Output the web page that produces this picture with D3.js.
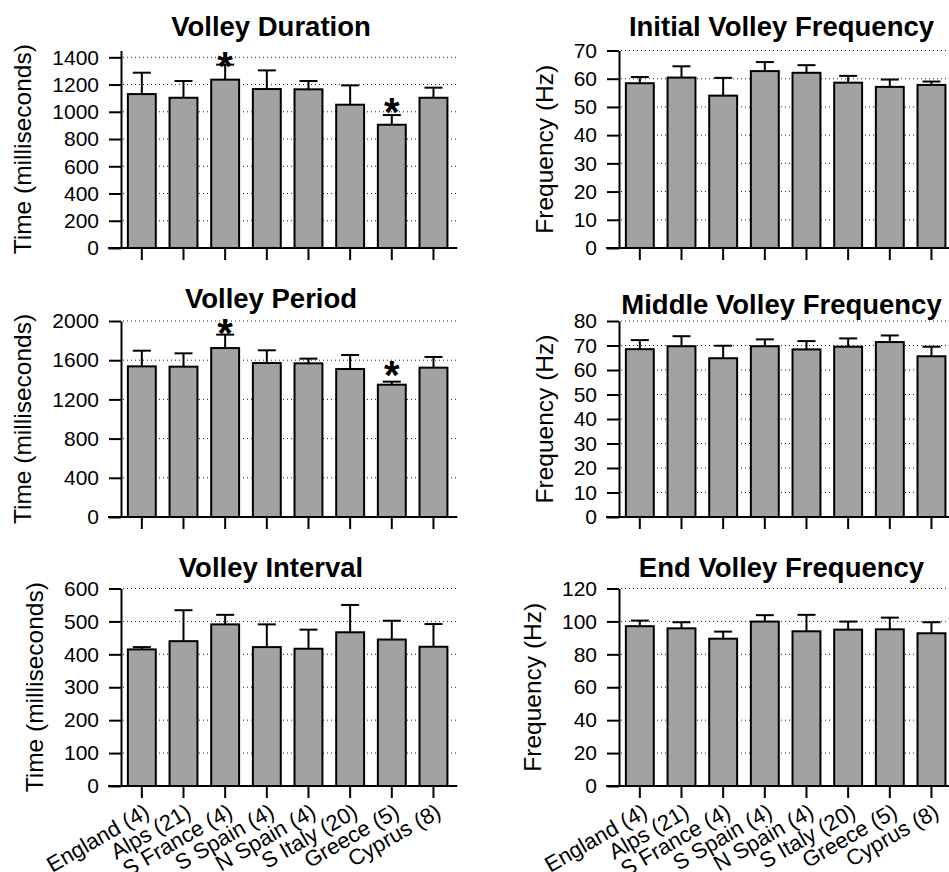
<!DOCTYPE html>
<html>
<head>
<meta charset="utf-8">
<script src="https://cdn.jsdelivr.net/npm/d3@7"></script>
<style>
  body { margin: 0; background: #fff; }
  svg { display: block; }
  text { font-family: "Liberation Sans", Arial, Helvetica, sans-serif; fill: #000; }
</style>
</head>
<body>
<svg id="chart" width="949" height="872"></svg>
<script>
// Populations (sample sizes in brackets)
const regions = ["England (4)", "Alps (21)", "S France (4)", "S Spain (4)",
                 "N Spain (4)", "S Italy (20)", "Greece (5)", "Cyprus (8)"];

// Volley duration (ms): mean and upper error
const durationMean = [1130, 1103, 1236, 1167, 1165, 1052, 905, 1103];
const durationErr  = [157, 123, 110, 137, 61, 142, 71, 74];
const durationTicks = [0, 200, 400, 600, 800, 1000, 1200, 1400];
const durationStars = [{ region: "S France (4)", at: 1404 }, { region: "Greece (5)", at: 1065 }];

// Volley period (ms)
const periodMean = [1537, 1534, 1724, 1571, 1568, 1510, 1350, 1524];
const periodErr  = [160, 136, 137, 130, 48, 143, 31, 109];
const periodTicks = [0, 400, 800, 1200, 1600, 2000];
const periodStars = [{ region: "S France (4)", at: 1973 }, { region: "Greece (5)", at: 1538 }];

// Volley interval (ms)
const intervalMean = [415, 440, 491, 422, 417, 467, 445, 423];
const intervalErr  = [7, 94, 29, 69, 58, 83, 57, 69];
const intervalTicks = [0, 100, 200, 300, 400, 500, 600];

// Initial volley frequency (Hz)
const initialMean = [58.4, 60.4, 54.0, 62.7, 62.1, 58.6, 57.1, 57.8];
const initialErr  = [2.2, 4.0, 6.3, 3.2, 2.7, 2.4, 2.6, 1.2];
const initialTicks = [0, 10, 20, 30, 40, 50, 60, 70];

// Middle volley frequency (Hz)
const middleMean = [68.5, 69.7, 64.8, 69.7, 68.4, 69.5, 71.4, 65.6];
const middleErr  = [3.7, 4.1, 5.1, 2.8, 3.4, 3.4, 2.7, 3.9];
const middleTicks = [0, 10, 20, 30, 40, 50, 60, 70, 80];

// End volley frequency (Hz)
const endMean = [97.1, 95.8, 89.5, 99.9, 94.0, 95.0, 95.2, 92.8];
const endErr  = [3.4, 3.7, 4.3, 3.9, 10.0, 4.9, 7.1, 6.7];
const endTicks = [0, 20, 40, 60, 80, 100, 120];

// ---- layout ----
const colAxisX = [121, 619];
const rowTop = [50.5, 321, 588.5];
const rowBottom = [248, 517, 786];
const plotWidth = 333.3;
const titleCenterX = [271, 781.5];

const panels = [
  { title: "Volley Duration", yLabel: "Time (milliseconds)", mean: durationMean, err: durationErr,
    ticks: durationTicks, yMax: 1450, stars: durationStars, col: 0, row: 0, titleY: 35.5 },
  { title: "Volley Period", yLabel: "Time (milliseconds)", mean: periodMean, err: periodErr,
    ticks: periodTicks, yMax: 2000, stars: periodStars, col: 0, row: 1, titleY: 307.5 },
  { title: "Volley Interval", yLabel: "Time (milliseconds)", mean: intervalMean, err: intervalErr,
    ticks: intervalTicks, yMax: 600, stars: [], col: 0, row: 2, titleY: 577 },
  { title: "Initial Volley Frequency", yLabel: "Frequency (Hz)", mean: initialMean, err: initialErr,
    ticks: initialTicks, yMax: 70, stars: [], col: 1, row: 0, titleY: 35.5 },
  { title: "Middle Volley Frequency", yLabel: "Frequency (Hz)", mean: middleMean, err: middleErr,
    ticks: middleTicks, yMax: 80, stars: [], col: 1, row: 1, titleY: 314 },
  { title: "End Volley Frequency", yLabel: "Frequency (Hz)", mean: endMean, err: endErr,
    ticks: endTicks, yMax: 120, stars: [], col: 1, row: 2, titleY: 577 }
];

const svg = d3.select("#chart");
svg.append("rect").attr("width", 949).attr("height", 872).attr("fill", "#fff");

const barFill = "#a2a2a2";

panels.forEach(p => {
  const x0 = colAxisX[p.col];
  const x = d3.scaleBand().domain(regions)
    .range([x0, x0 + plotWidth]).paddingInner(0.33).paddingOuter(0.165);
  const y = d3.scaleLinear().domain([0, p.yMax]).range([rowBottom[p.row], rowTop[p.row]]);
  const g = svg.append("g");
  const data = regions.map((r, i) => ({ region: r, mean: p.mean[i], err: p.err[i] }));

  // dotted horizontal gridlines
  g.append("g").selectAll("line").data(p.ticks.filter(t => t > 0)).join("line")
    .attr("x1", x0 + 2).attr("x2", x0 + plotWidth + 4)
    .attr("y1", d => y(d)).attr("y2", d => y(d))
    .attr("stroke", "#222").attr("stroke-width", 1).attr("stroke-dasharray", "1,3");

  // bars
  g.append("g").selectAll("rect").data(data).join("rect")
    .attr("x", d => x(d.region)).attr("width", x.bandwidth())
    .attr("y", d => y(d.mean)).attr("height", d => y(0) - y(d.mean))
    .attr("fill", barFill).attr("stroke", "#000").attr("stroke-width", 2);

  // upper error bars
  const cap = 9;
  const eb = g.append("g").attr("stroke", "#000").attr("stroke-width", 2);
  eb.selectAll("line.stem").data(data).join("line").attr("class", "stem")
    .attr("x1", d => x(d.region) + x.bandwidth() / 2).attr("x2", d => x(d.region) + x.bandwidth() / 2)
    .attr("y1", d => y(d.mean)).attr("y2", d => y(d.mean + d.err));
  eb.selectAll("line.cap").data(data).join("line").attr("class", "cap")
    .attr("x1", d => x(d.region) + x.bandwidth() / 2 - cap).attr("x2", d => x(d.region) + x.bandwidth() / 2 + cap)
    .attr("y1", d => y(d.mean + d.err)).attr("y2", d => y(d.mean + d.err));

  // significance asterisks
  const starSize = 40;
  g.append("g").selectAll("text").data(p.stars).join("text")
    .attr("x", d => x(d.region) + x.bandwidth() / 2)
    .attr("y", d => y(d.at) + 0.58 * starSize)
    .attr("text-anchor", "middle").attr("font-weight", "bold")
    .attr("font-size", starSize).text("*");

  // y axis
  const yAxis = g.append("g").attr("transform", `translate(${x0},0)`)
    .call(d3.axisLeft(y).tickValues(p.ticks).tickSize(12).tickPadding(10).tickSizeOuter(0)
      .tickFormat(d3.format("d")));
  yAxis.select(".domain").attr("stroke", "#000").attr("stroke-width", 2);
  yAxis.selectAll(".tick line").attr("stroke", "#000").attr("stroke-width", 2);
  yAxis.selectAll(".tick text").attr("font-size", 21).attr("font-family", null);

  // x axis: baseline plus tick marks
  g.append("line")
    .attr("x1", x0 - 13).attr("x2", x0 + plotWidth + 3)
    .attr("y1", y(0)).attr("y2", y(0))
    .attr("stroke", "#000").attr("stroke-width", 2);
  const xAxis = g.append("g").attr("transform", `translate(0,${y(0)})`)
    .call(d3.axisBottom(x).tickSize(12).tickSizeOuter(0));
  xAxis.select(".domain").remove();
  xAxis.selectAll(".tick line").attr("stroke", "#000").attr("stroke-width", 2);
  if (p.row === 2) {
    xAxis.selectAll(".tick text")
      .attr("font-size", 22).attr("font-family", null)
      .attr("y", 0).attr("dy", 0).attr("text-anchor", "end")
      .attr("transform", "translate(9,30) rotate(-30)");
  } else {
    xAxis.selectAll(".tick text").remove();
  }

  // y axis title, placed just left of the tick labels
  const bb = yAxis.node().getBBox();
  const tx = x0 + bb.x - 21;
  const ty = (y.range()[0] + y.range()[1]) / 2;
  g.append("text")
    .attr("transform", `translate(${tx},${ty}) rotate(-90)`)
    .attr("text-anchor", "middle").attr("font-size", 24.5)
    .text(p.yLabel);

  // panel title
  g.append("text")
    .attr("x", titleCenterX[p.col]).attr("y", p.titleY)
    .attr("text-anchor", "middle").attr("font-weight", "bold").attr("font-size", 27.5)
    .text(p.title);
});
</script>
</body>
</html>
